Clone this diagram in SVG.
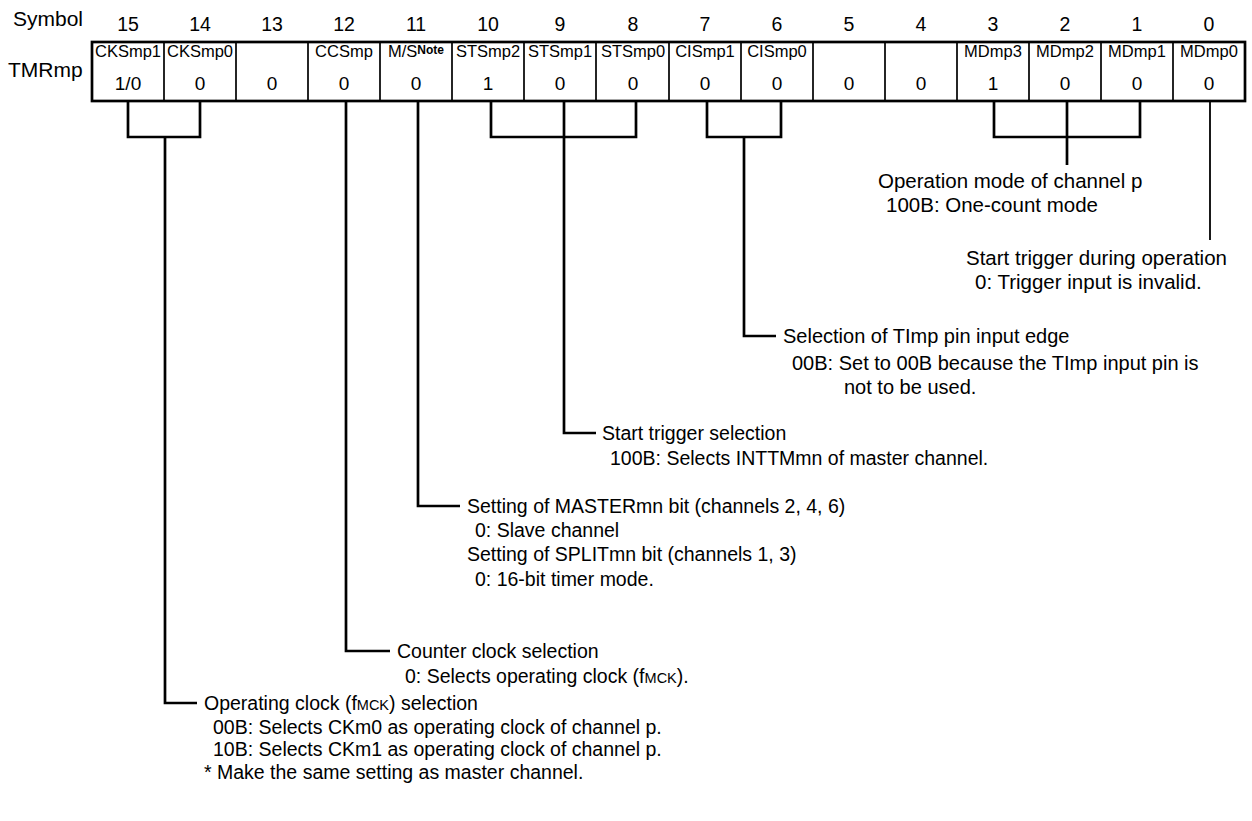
<svg xmlns="http://www.w3.org/2000/svg" width="1252" height="821" viewBox="0 0 1252 821">
<style>
text{font-family:"Liberation Sans",Arial,sans-serif;fill:#000}
.hdr{font-size:21px}
.num{font-size:19.5px;text-anchor:middle}
.fld{font-size:16.5px;text-anchor:middle}
.val{font-size:19px;text-anchor:middle}
.note{font-size:12px;font-weight:bold}
.t{font-size:19.5px}
.tl{font-size:20.5px}
.tm{font-size:20px}
.sc{font-size:14.5px}
.conn{fill:none;stroke:#000;stroke-width:2.7}
.thin{fill:none;stroke:#000;stroke-width:1.8}
.div{stroke:#000;stroke-width:1.7}
</style>
<rect width="1252" height="821" fill="#fff"/>
<g id="header">
<text class="hdr" x="13" y="26">Symbol</text>
<text class="hdr" x="8" y="77">TMRmp</text>
<text class="num" x="128" y="31">15</text>
<text class="num" x="200" y="31">14</text>
<text class="num" x="272" y="31">13</text>
<text class="num" x="344" y="31">12</text>
<text class="num" x="416" y="31">11</text>
<text class="num" x="488" y="31">10</text>
<text class="num" x="560" y="31">9</text>
<text class="num" x="633" y="31">8</text>
<text class="num" x="705" y="31">7</text>
<text class="num" x="777" y="31">6</text>
<text class="num" x="849" y="31">5</text>
<text class="num" x="921" y="31">4</text>
<text class="num" x="993" y="31">3</text>
<text class="num" x="1065" y="31">2</text>
<text class="num" x="1137" y="31">1</text>
<text class="num" x="1209" y="31">0</text>
</g>
<g id="register">
<rect x="92" y="42" width="1153" height="59" fill="#fff" stroke="#000" stroke-width="2.7"/>
<path class="div" d="M164,42V101M236,42V101M308,42V101M380,42V101M452,42V101M524,42V101M596,42V101M669,42V101M741,42V101M813,42V101M885,42V101M957,42V101M1029,42V101M1101,42V101M1173,42V101"/>
<text class="fld" x="128" y="57">CKSmp1</text>
<text class="fld" x="200" y="57">CKSmp0</text>
<text class="fld" x="344" y="57">CCSmp</text>
<text class="fld" x="416" y="57">M/S<tspan class="note" dy="-3">Note</tspan></text>
<text class="fld" x="488" y="57">STSmp2</text>
<text class="fld" x="560" y="57">STSmp1</text>
<text class="fld" x="633" y="57">STSmp0</text>
<text class="fld" x="705" y="57">CISmp1</text>
<text class="fld" x="777" y="57">CISmp0</text>
<text class="fld" x="993" y="57">MDmp3</text>
<text class="fld" x="1065" y="57">MDmp2</text>
<text class="fld" x="1137" y="57">MDmp1</text>
<text class="fld" x="1209" y="57">MDmp0</text>
<text class="val" x="128" y="90">1/0</text>
<text class="val" x="200" y="90">0</text>
<text class="val" x="272" y="90">0</text>
<text class="val" x="344" y="90">0</text>
<text class="val" x="416" y="90">0</text>
<text class="val" x="488" y="90">1</text>
<text class="val" x="560" y="90">0</text>
<text class="val" x="633" y="90">0</text>
<text class="val" x="705" y="90">0</text>
<text class="val" x="777" y="90">0</text>
<text class="val" x="849" y="90">0</text>
<text class="val" x="921" y="90">0</text>
<text class="val" x="993" y="90">1</text>
<text class="val" x="1065" y="90">0</text>
<text class="val" x="1137" y="90">0</text>
<text class="val" x="1209" y="90">0</text>
</g>
<g id="connectors">
<path class="conn" d="M128,101V137H200V101M165,137V703H197"/>
<path class="conn" d="M346,101V651H390"/>
<path class="conn" d="M418,101V506H460"/>
<path class="conn" d="M491,101V137H636V101M564,101V433H596"/>
<path class="conn" d="M707,101V137H781V101M744,137V336H776"/>
<path class="conn" d="M994,101V137H1140V101M1067,101V165"/>
<path class="thin" d="M1210,101V240"/>
</g>
<g id="mode">
<text class="tl" x="878" y="188">Operation mode of channel p</text>
<text class="tl" x="886" y="212">100B: One-count mode</text>
</g>
<g id="trigger-op">
<text class="tl" x="966" y="265">Start trigger during operation</text>
<text class="tl" x="975" y="289">0: Trigger input is invalid.</text>
</g>
<g id="edge">
<text class="tm" x="783" y="343">Selection of TImp pin input edge</text>
<text class="tm" x="792" y="370">00B: Set to 00B because the TImp input pin is</text>
<text class="tm" x="844" y="394">not to be used.</text>
</g>
<g id="start-trigger">
<text class="t" x="602" y="440">Start trigger selection</text>
<text class="t" x="610" y="465">100B: Selects INTTMmn of master channel.</text>
</g>
<g id="master">
<text class="t" x="467" y="513">Setting of MASTERmn bit (channels 2, 4, 6)</text>
<text class="t" x="475" y="537">0: Slave channel</text>
<text class="t" x="467" y="561">Setting of SPLITmn bit (channels 1, 3)</text>
<text class="t" x="475" y="586">0: 16-bit timer mode.</text>
</g>
<g id="counter-clock">
<text class="t" x="397" y="658">Counter clock selection</text>
<text class="t" x="405" y="683">0: Selects operating clock (f<tspan class="sc">MCK</tspan>).</text>
</g>
<g id="op-clock">
<text class="t" x="204" y="710">Operating clock (f<tspan class="sc">MCK</tspan>) selection</text>
<text class="t" x="213" y="734">00B: Selects CKm0 as operating clock of channel p.</text>
<text class="t" x="213" y="756">10B: Selects CKm1 as operating clock of channel p.</text>
<text class="t" x="204" y="779">* Make the same setting as master channel.</text>
</g>
</svg>
